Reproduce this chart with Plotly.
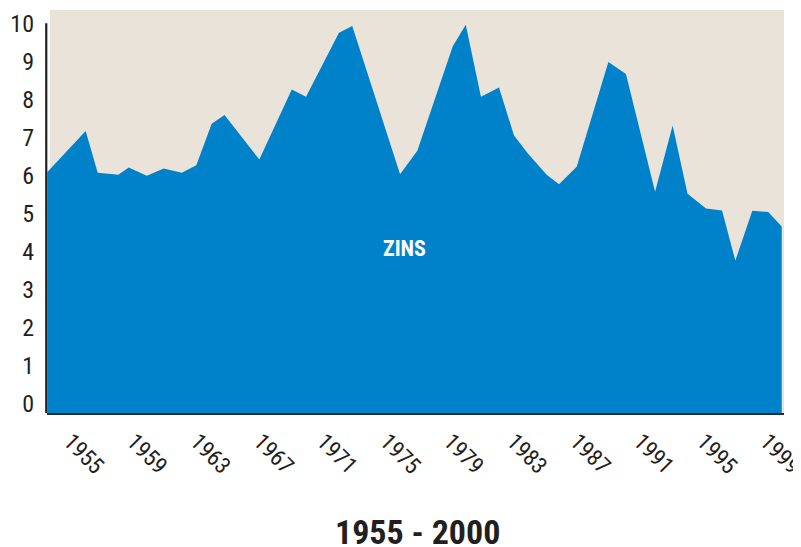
import plotly.graph_objects as go

# Data (decimal year positions of the polyline vertices)
years = [1954.05, 1956.47, 1957.23, 1958.53, 1959.19, 1960.33, 1961.40, 1962.54,
         1963.46, 1964.43, 1965.24, 1967.44, 1969.49, 1970.39, 1972.47, 1973.31,
         1976.33, 1977.42, 1979.66, 1980.48, 1981.44, 1982.58, 1983.53, 1984.38,
         1985.59, 1986.37, 1987.49, 1989.49, 1990.60, 1992.44, 1993.55, 1994.49,
         1995.66, 1996.67, 1997.51, 1998.58, 1999.59, 2000.44]
zins = [6.09, 7.17, 6.07, 6.02, 6.21, 5.99, 6.18, 6.07,
        6.27, 7.36, 7.59, 6.42, 8.26, 8.07, 9.75, 9.93,
        6.03, 6.65, 9.40, 9.96, 8.07, 8.31, 7.05, 6.59,
        6.02, 5.77, 6.23, 8.98, 8.67, 5.57, 7.31, 5.52,
        5.13, 5.08, 3.76, 5.07, 5.04, 4.66]

x_ticks = list(range(1955, 2000, 4))
x_ticklabels = [str(v) for v in x_ticks]
y_ticks = list(range(0, 11))

series_label = "ZINS"
title_text = "1955 - 2000"

X_RANGE = [1954.027, 2000.584]
Y_RANGE = [-0.247, 10.35]

BLUE = "#0082CA"
BEIGE = "#E9E3DA"
DARK = "#231F20"
FONT = "Liberation Sans Narrow, Arial Narrow, Roboto Condensed, sans-serif"

fig = go.Figure()

# baseline at bottom of the axis so the fill reaches the axis line
fig.add_trace(go.Scatter(x=[years[0], years[-1]], y=[Y_RANGE[0], Y_RANGE[0]],
                         mode="lines", line=dict(width=0), hoverinfo="skip",
                         showlegend=False))
fig.add_trace(go.Scatter(x=years, y=zins, mode="lines", line=dict(width=0, color=BLUE),
                         fill="tonexty", fillcolor=BLUE, name=series_label,
                         showlegend=False))

fig.add_annotation(x=1976.64, y=4.07, xref="x", yref="y", text="<b>" + series_label + "</b>",
                   showarrow=False, font=dict(family=FONT, size=22, color="white"))

fig.add_annotation(x=0.5027, y=-0.295, xref="paper", yref="paper", text="<b>" + title_text + "</b>",
                   showarrow=False, xanchor="center", yanchor="middle",
                   font=dict(family=FONT, size=34, color=DARK))

# beige panel behind the data
fig.add_shape(type="rect", xref="paper", yref="paper", x0=0.004, x1=1, y0=0, y1=1,
              fillcolor=BEIGE, line=dict(width=0), layer="below")
# vertical axis line (from bottom to the 10 level)
fig.add_shape(type="line", xref="paper", yref="y", x0=-0.001, x1=-0.001,
              y0=Y_RANGE[0], y1=10, line=dict(color=DARK, width=2.2))

fig.update_layout(
    width=793, height=539,
    margin=dict(l=39, r=17, t=2, b=134, pad=0, autoexpand=False),
    paper_bgcolor="white", plot_bgcolor="rgba(0,0,0,0)",
    font=dict(family=FONT, color=DARK),
)
fig.update_xaxes(range=X_RANGE, tickmode="array", tickvals=x_ticks, ticktext=x_ticklabels,
                 tickangle=45, showgrid=False, zeroline=False, ticks="", automargin=False,
                 showline=True, linecolor="#1E2A36", linewidth=2,
                 tickfont=dict(family=FONT, size=23, color=DARK),
                 ticklabelstandoff=4, ticklabelshift=8, ticklabeloverflow="allow")
fig.update_yaxes(range=Y_RANGE, tickmode="array", tickvals=y_ticks, automargin=False,
                 showgrid=False, zeroline=False, ticks="", showline=False,
                 tickfont=dict(family=FONT, size=24, color=DARK), ticklabelstandoff=12)

fig.write_html("out.html")
